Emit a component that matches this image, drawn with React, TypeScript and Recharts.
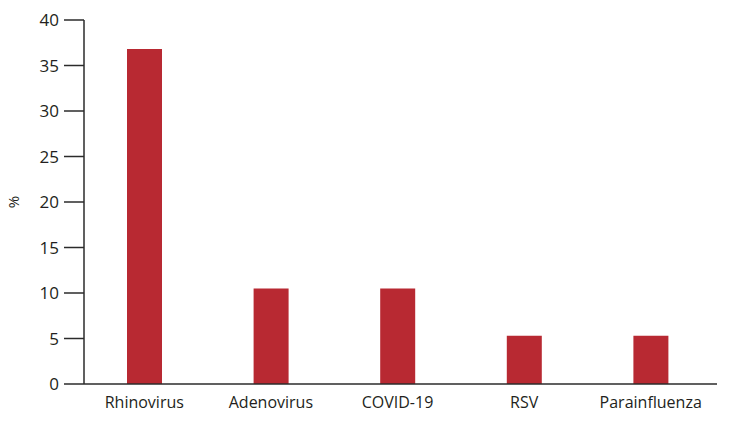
import React from 'react';
import { BarChart, Bar, XAxis, YAxis } from 'recharts';

const viruses = ['Rhinovirus', 'Adenovirus', 'COVID-19', 'RSV', 'Parainfluenza'];
const percentages = [36.8, 10.5, 10.5, 5.3, 5.3];
const yTicks = [0, 5, 10, 15, 20, 25, 30, 35, 40];

const data = viruses.map((name, i) => ({ name, value: percentages[i] }));

const axisColor = '#2b2b2b';
const barColor = '#b82932';
const fontFamily = '"Open Sans", "Noto Sans", sans-serif';

const App: React.FC = () => {
    return (
        <div style={{ position: 'absolute', left: 0, top: 0, width: 744, height: 421, background: '#fff' }}>
            <BarChart
                width={744}
                height={421}
                data={data}
                margin={{ top: 20, right: 27, left: 0, bottom: 0 }}
                style={{ fontFamily }}
            >
                <XAxis
                    dataKey="name"
                    height={37}
                    padding={{ left: -3, right: 3 }}
                    tickLine={false}
                    tickSize={0}
                    tickMargin={13}
                    axisLine={{ stroke: axisColor, strokeWidth: 1.5 }}
                    tick={{ fontSize: 16, fill: '#231f20', fontFamily }}
                />
                <YAxis
                    width={84}
                    domain={[0, 40]}
                    ticks={yTicks}
                    interval={0}
                    tickSize={20}
                    tickMargin={5}
                    axisLine={{ stroke: axisColor, strokeWidth: 1.5 }}
                    tickLine={{ stroke: axisColor, strokeWidth: 1.5 }}
                    tick={{ fontSize: 17, fill: '#231f20', fontFamily }}
                    label={{ value: '%', angle: -90, position: 'insideLeft', offset: 14, style: { fontSize: 15, fill: '#231f20', textAnchor: 'middle', fontFamily } }}
                />
                <Bar dataKey="value" fill={barColor} barSize={35} isAnimationActive={false} />
            </BarChart>
        </div>
    );
};

export default App;
